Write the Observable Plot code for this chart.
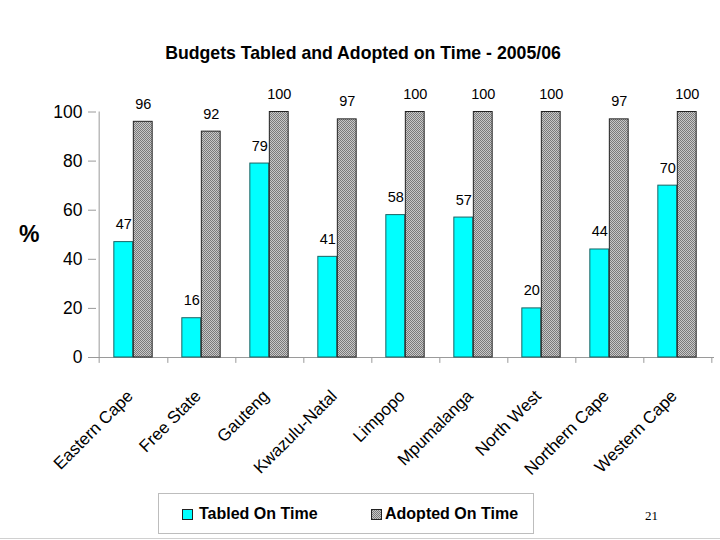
<!DOCTYPE html>
<html>
<head>
<meta charset="utf-8">
<script src="https://cdn.jsdelivr.net/npm/d3@7"></script>
<script src="https://cdn.jsdelivr.net/npm/@observablehq/plot@0.6"></script>
<style>
  html, body { margin: 0; padding: 0; background: #fff; }
  #wrap { position: relative; width: 720px; height: 540px; overflow: hidden; font-family: Arial, "Liberation Sans", sans-serif; }
  #title { position: absolute; left: 0; width: 726px; top: 43px; text-align: center; font-weight: bold; font-size: 17.7px; color: #000; }
  #plot { position: absolute; left: 0; top: 70px; }
  #pct { position: absolute; left: 19px; top: 221px; font-weight: bold; font-size: 23px; }
  #legend { position: absolute; left: 158px; top: 493px; width: 376px; height: 41px; border: 1px solid #bdbdbd; box-sizing: border-box; font-weight: bold; font-size: 16px; }
  .li { position: absolute; top: 11px; display: flex; align-items: center; white-space: nowrap; }
  .sw { width: 9px; height: 9px; border: 1px solid #222; margin-right: 6px; }
  #page { position: absolute; left: 645px; top: 508px; font-family: "Liberation Serif", "DejaVu Serif", serif; font-size: 13px; }
  #bline { position: absolute; left: 0; top: 538px; width: 720px; height: 1px; background: #d0d0d0; }
</style>
</head>
<body>
<svg width="0" height="0" style="position:absolute">
  <defs>
    <pattern id="hatch" width="2" height="2" patternUnits="userSpaceOnUse">
      <rect width="2" height="2" fill="#c8c8c8"></rect>
      <rect x="0" y="0" width="1" height="1" fill="#7a7a7a"></rect>
      <rect x="1" y="1" width="1" height="1" fill="#7a7a7a"></rect>
    </pattern>
  </defs>
</svg>
<div id="wrap">
  <div id="title">Budgets Tabled and Adopted on Time - 2005/06</div>
  <div id="pct">%</div>
  <div id="plot"></div>
  <div id="legend">
    <div class="li" style="left:23px"><div class="sw" style="background:#00ffff"></div>Tabled On Time</div>
    <div class="li" style="left:212px"><svg width="11" height="11" style="margin-right:3px"><rect x="0.5" y="0.5" width="10" height="10" fill="url(#hatch)" stroke="#222"></rect></svg>Adopted On Time</div>
  </div>
  <div id="page">21</div>
  <div id="bline"></div>
</div>
<script>
const provinces = ["Eastern Cape", "Free State", "Gauteng", "Kwazulu-Natal", "Limpopo", "Mpumalanga", "North West", "Northern Cape", "Western Cape"];
const tabledOnTime = [47, 16, 79, 41, 58, 57, 20, 44, 70];
const adoptedOnTime = [96, 92, 100, 97, 100, 100, 100, 97, 100];
const yTicks = [0, 20, 40, 60, 80, 100];

const data = provinces.map((p, i) => ({province: p, tabled: tabledOnTime[i], adopted: adoptedOnTime[i]}));

const W = 720, H = 420, mL = 96, mR = 6, mT = 41.5, mB = 133;
const bw = (W - mL - mR) / provinces.length;
const barW = 19.5;
const side = (bw - 2 * barW) / 2;

const chart = Plot.plot({
  width: W, height: H,
  marginLeft: mL, marginRight: mR, marginTop: mT, marginBottom: mB,
  style: {fontFamily: "Arial, 'Liberation Sans', sans-serif", color: "#000", background: "transparent"},
  x: {type: "band", domain: provinces, padding: 0, axis: null},
  y: {domain: [0, 100], axis: null},
  marks: [
    Plot.axisY({ticks: yTicks, tickSize: 8, tickPadding: 6, fontSize: 17.5, stroke: "#9a9a9a", label: null, tickFormat: d => d}),
    Plot.ruleY([0], {stroke: "#9a9a9a"}),
    Plot.ruleX([provinces[0]], {y1: -2.4, y2: 100, dx: -bw / 2, stroke: "#9a9a9a"}),
    Plot.ruleX(provinces, {y1: -2.4, y2: 0, dx: bw / 2, stroke: "#9a9a9a"}),
    Plot.barY(data, {x: "province", y: "tabled", fill: "#00ffff", stroke: "#1a6363", strokeWidth: 1, insetLeft: side, insetRight: side + barW}),
    Plot.barY(data, {x: "province", y: "adopted", fill: "url(#hatch)", stroke: "#222", strokeWidth: 1, insetLeft: side + barW, insetRight: side}),
    Plot.text(data, {x: "province", y: "tabled", text: "tabled", dx: -barW / 2, dy: -13, lineAnchor: "bottom", fontSize: 14.5}),
    Plot.text(data, {x: "province", y: "adopted", text: "adopted", dx: barW / 2, dy: -13, lineAnchor: "bottom", fontSize: 14.5}),
    Plot.text(provinces, {x: d => d, y: 0, text: d => d, rotate: -45, textAnchor: "end", lineAnchor: "top", dx: -8, dy: 31, fontSize: 17})
  ]
});
document.getElementById("plot").appendChild(chart);
</script>
</body>
</html>
